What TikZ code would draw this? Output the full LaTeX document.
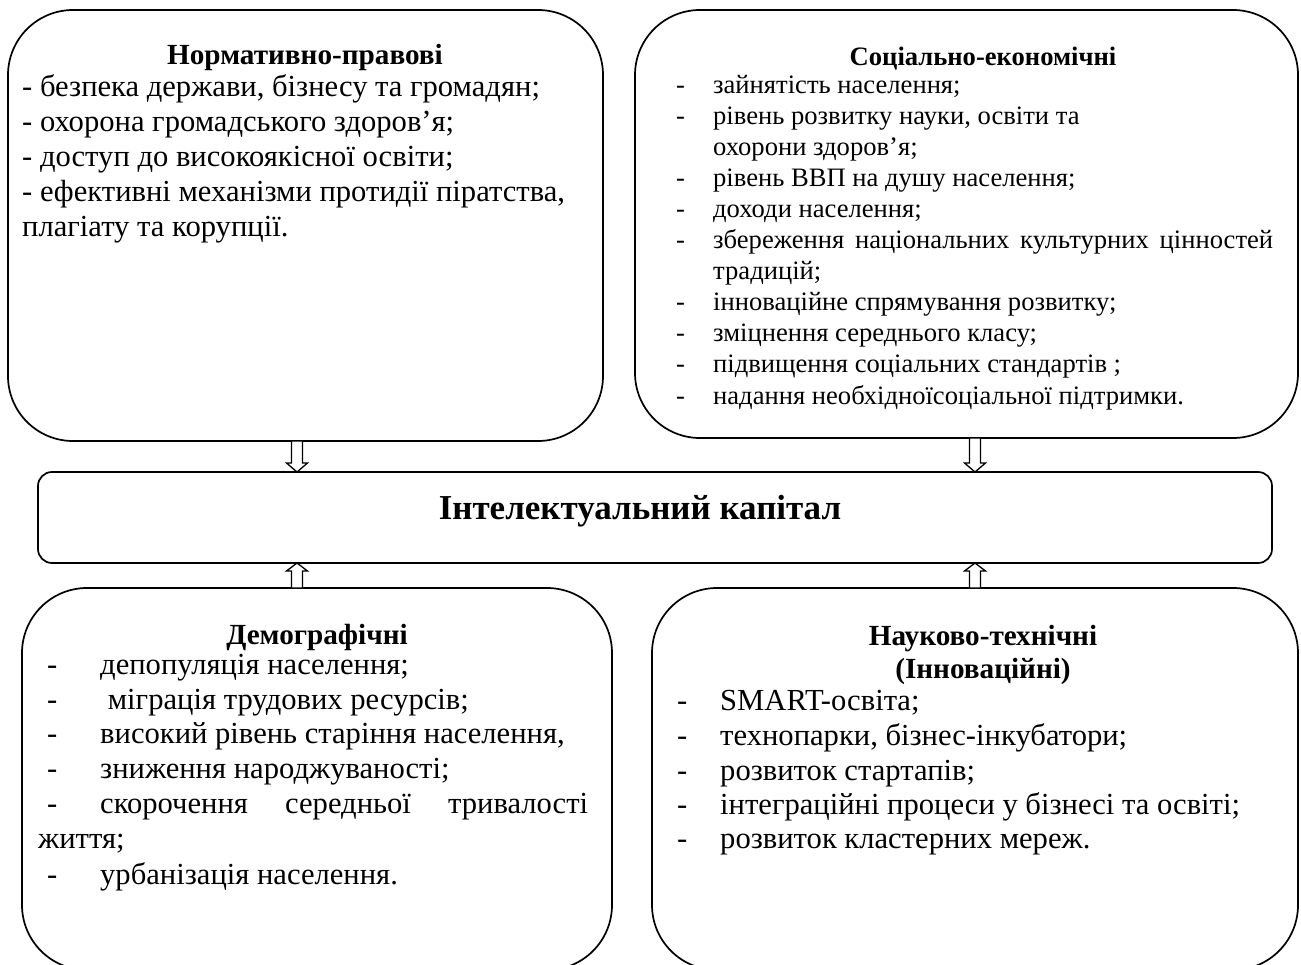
\documentclass[tikz,border=0pt]{standalone}
\usepackage{fontspec}
\setmainfont{Liberation Serif}
\usetikzlibrary{calc}
\begin{document}
\begin{tikzpicture}[x=1pt,y=-1pt,
  bigbox/.style={draw, line width=1.7pt, rounded corners=65pt, outer sep=0pt, inner sep=0pt},
  midbox/.style={draw, line width=1.7pt, rounded corners=14pt, outer sep=0pt, inner sep=0pt},
  harrow/.style={draw, line width=1.3pt, fill=white, line join=miter},
  ln/.style={anchor=base west, inner sep=0pt, font=\fontsize{30.6}{35}\selectfont},
  lns/.style={anchor=base west, inner sep=0pt, font=\fontsize{26.6}{31}\selectfont},
  ttl/.style={anchor=base, inner sep=0pt, font=\fontsize{29.2}{35}\selectfont\bfseries},
  ttls/.style={anchor=base, inner sep=0pt, font=\fontsize{26.6}{31}\selectfont\bfseries},
  ttlm/.style={anchor=base, inner sep=0pt, font=\fontsize{35}{40}\selectfont\bfseries},
]
\useasboundingbox (0,0) rectangle (1301,965);
\clip (0,0) rectangle (1301,965);
\fill[white] (0,0) rectangle (1301,965);

% boxes
\node[bigbox, minimum width=595pt, minimum height=431pt] (tl) at (305.5,225.5) {};
\node[bigbox, minimum width=663pt, minimum height=428pt] (tr) at (966.5,224) {};
\node[midbox, minimum width=1234pt, minimum height=91pt] (mid) at (655,517.5) {};
\node[bigbox, minimum width=590pt, minimum height=382pt] (bl) at (317,779) {};
\node[bigbox, minimum width=646pt, minimum height=382pt] (br) at (975,779) {};

% arrows
\coordinate (c1) at (297,0);
\coordinate (c2) at (975,0);
\foreach \c/\b in {c1/tl, c2/tr}{
  \draw[harrow] ($(\c |- \b.south)+(-5.5,0)$) -- ($(\c |- mid.north)+(-5.5,-9)$) -- ++(-5,0)
    -- (\c |- mid.north) -- ++(10.5,-9) -- ++(-5,0) -- ($(\c |- \b.south)+(5.5,0)$) -- cycle;
}
\foreach \c/\b in {c1/bl, c2/br}{
  \draw[harrow] ($(\c |- \b.north)+(-5.5,0)$) -- ($(\c |- mid.south)+(-5.5,8)$) -- ++(-5,0)
    -- (\c |- mid.south) -- ++(10.5,8) -- ++(-5,0) -- ($(\c |- \b.north)+(5.5,0)$) -- cycle;
}

% top-left text
\node[ttl] (tlt) at (305,65) {Нормативно-правові};
\node[ln] (tl1) at (22,97) {- безпека держави, бізнесу та громадян;};
\node[ln] (tl2) at (22,132) {- охорона громадського здоров’я;};
\node[ln] (tl3) at (22,167) {- доступ до високоякісної освіти;};
\node[ln] (tl4) at (22,202) {- ефективні механізми протидії піратства,};
\node[ln] (tl5) at (22,237) {плагіату та корупції.};

% top-right text
\node[ttls] (trt) at (983,66) {Соціально-економічні};
\node[lns] (tr1) at (676,94) {\makebox[37pt][l]{-}зайнятість населення;};
\node[lns] (tr2) at (676,125) {\makebox[37pt][l]{-}рівень розвитку науки, освіти та};
\node[lns] (tr3) at (713,156) {охорони здоров’я;};
\node[lns] (tr4) at (676,187) {\makebox[37pt][l]{-}рівень ВВП на душу населення;};
\node[lns] (tr5) at (676,218) {\makebox[37pt][l]{-}доходи населення;};
\node[lns] (tr6) at (676,249) {\makebox[37pt][l]{-}\makebox[560pt][s]{збереження національних культурних цінностей}};
\node[lns] (tr7) at (713,280) {традицій;};
\node[lns] (tr8) at (676,311) {\makebox[37pt][l]{-}інноваційне спрямування розвитку;};
\node[lns] (tr9) at (676,342) {\makebox[37pt][l]{-}зміцнення середнього класу;};
\node[lns] (tr10) at (676,373) {\makebox[37pt][l]{-}підвищення соціальних стандартів ;};
\node[lns] (tr11) at (676,404) {\makebox[37pt][l]{-}надання необхідноїсоціальної підтримки.};

% middle text
\node[ttlm] (midt) at (640,519) {Інтелектуальний капітал};

% bottom-left text
\node[ttl] (blt) at (317,644) {Демографічні};
\node[ln] (bl1) at (47,674) {\makebox[53pt][l]{-}депопуляція населення;};
\node[ln] (bl2) at (47,709) {\makebox[53pt][l]{-}\ міграція трудових ресурсів;};
\node[ln] (bl3) at (47,743) {\makebox[53pt][l]{-}високий рівень старіння населення,};
\node[ln] (bl4) at (47,778) {\makebox[53pt][l]{-}зниження народжуваності;};
\node[ln] (bl5) at (47,813) {\makebox[53pt][l]{-}\makebox[488pt][s]{скорочення середньої тривалості}};
\node[ln] (bl6) at (38,848) {життя;};
\node[ln] (bl7) at (47,884) {\makebox[53pt][l]{-}урбанізація населення.};

% bottom-right text
\node[ttl] (brt1) at (983,645) {Науково-технічні};
\node[ttl] (brt2) at (983,678) {(Інноваційні)};
\node[ln] (br1) at (677,710) {\makebox[43pt][l]{-}SMART-освіта;};
\node[ln] (br2) at (677,745) {\makebox[43pt][l]{-}технопарки, бізнес-інкубатори;};
\node[ln] (br3) at (677,780) {\makebox[43pt][l]{-}розвиток стартапів;};
\node[ln] (br4) at (677,814) {\makebox[43pt][l]{-}інтеграційні процеси у бізнесі та освіті;};
\node[ln] (br5) at (677,848) {\makebox[43pt][l]{-}розвиток кластерних мереж.};
\end{tikzpicture}
\end{document}
